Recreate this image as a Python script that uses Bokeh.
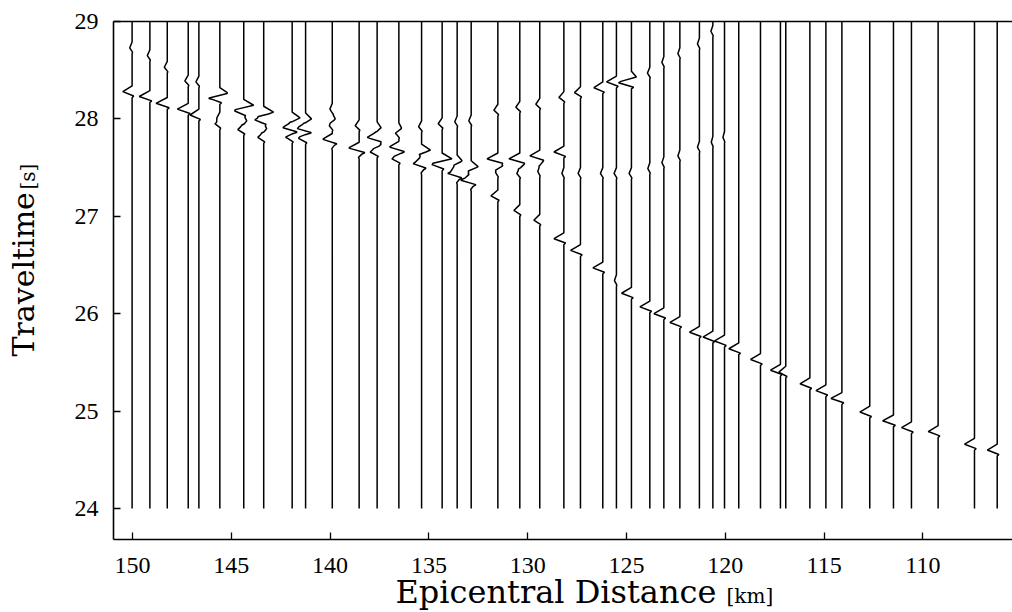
import numpy as np
from bokeh.plotting import figure
from bokeh.models import Range1d, FixedTicker, Label, LinearAxis
from bokeh.embed import file_html
from bokeh.resources import INLINE

# epicentral distance of each trace [km]
distances = [150.02, 149.12, 148.24, 147.18, 146.64, 145.58, 144.37, 143.36, 141.92, 141.24,
             139.89, 138.53, 137.62, 136.52, 135.37, 134.33, 133.57, 132.86, 131.51, 130.40,
             129.39, 128.17, 127.33, 126.20, 125.51, 124.75, 123.82, 123.11, 122.30, 121.31,
             120.63, 120.04, 119.32, 118.22, 117.21, 116.94, 115.72, 114.91, 114.10, 112.69,
             111.49, 110.58, 109.23, 107.39, 106.24]

# arrivals (lobe times [s]) on each trace
arrival_times = [
    [28.73, 28.28], [28.65, 28.23], [28.53, 28.16], [28.39, 28.10], [28.38, 28.04],
    [28.26, 28.21, 28.01, 27.95],
    [28.14, 28.08, 27.98, 27.89],
    [28.07, 27.99, 27.90, 27.81],
    [28.01, 27.91, 27.86, 27.81],
    [28.00, 27.90, 27.86, 27.80],
    [28.10, 28.00, 27.93, 27.79, 27.74],
    [27.93, 27.70, 27.65],
    [27.91, 27.81, 27.74, 27.66],
    [27.90, 27.85, 27.71, 27.66, 27.59],
    [27.92, 27.68, 27.60, 27.54, 27.49],
    [27.95, 27.59, 27.53],
    [27.97, 27.57, 27.50, 27.44, 27.39],
    [27.98, 27.51, 27.44, 27.37, 27.32],
    [28.09, 27.59, 27.52, 27.45, 27.21],
    [28.12, 27.59, 27.53, 27.44, 27.06],
    [28.15, 27.62, 27.56, 27.46, 26.96],
    [28.22, 27.66, 27.44, 26.77],
    [28.27, 27.44, 26.65],
    [28.32, 27.44, 26.47],
    [28.38, 27.44, 26.34],
    [28.43, 28.37, 27.44, 26.21],
    [28.47, 27.49, 26.07],
    [28.58, 27.55, 26.00],
    [28.67, 27.62, 25.91],
    [28.77, 27.71, 25.81],
    [28.90, 27.76, 25.76],
    [27.81, 25.72],
    [25.64], [25.53], [25.42], [25.40], [25.28], [25.21], [25.13], [24.99],
    [24.90], [24.83], [24.79], [24.66], [24.60],
]

# lobe amplitudes [km], positive = deflection towards larger distance
arrival_amps = [
    [0.12, 0.47], [0.13, 0.54], [0.15, 0.57], [0.17, 0.55], [0.15, 0.45],
    [-0.45, 0.50, 0.15, 0.25],
    [-0.50, 0.45, -0.15, 0.30],
    [-0.50, 0.45, -0.15, 0.30],
    [-0.40, 0.50, -0.20, 0.30],
    [-0.30, 0.50, -0.25, 0.35],
    [0.12, -0.15, 0.15, 0.50, -0.15],
    [0.20, 0.55, -0.20],
    [-0.20, 0.50, -0.20, 0.35],
    [-0.15, 0.15, 0.50, -0.20, 0.35],
    [0.15, -0.45, 0.10, 0.45, -0.15],
    [0.20, -0.50, 0.50],
    [0.12, -0.25, 0.20, 0.50, -0.15],
    [0.12, -0.35, 0.15, 0.55, -0.15],
    [0.20, 0.55, -0.25, 0.12, 0.35],
    [0.20, 0.55, -0.20, 0.15, 0.30],
    [0.20, 0.50, -0.15, 0.10, 0.30],
    [0.25, 0.50, 0.10, 0.50],
    [0.30, 0.12, 0.50],
    [0.45, 0.12, 0.50],
    [0.50, 0.12, 0.10],
    [-0.25, 0.65, 0.12, 0.50],
    [0.12, 0.10, 0.50],
    [0.10, 0.10, 0.50],
    [0.10, 0.10, 0.50],
    [0.10, 0.10, 0.50],
    [0.10, 0.08, 0.50],
    [0.08, 0.50],
    [0.50], [0.50], [0.50], [0.35], [0.50], [0.50], [0.55], [0.50],
    [0.55], [0.50], [0.50], [0.50], [0.50],
]

# wavelet shape (time offset [s], relative deflection)
wavelet_dt = [-0.062, -0.045, 0.0, 0.06]
wavelet_shape = [0.0, -0.17, 1.0, 0.0]

trace_start, trace_end = 24.0, 29.0
x_ticks = [110, 115, 120, 125, 130, 135, 140, 145, 150]
y_ticks = [24, 25, 26, 27, 28, 29]
x_frame = (105.466, 150.96)     # plotted distance window
y_frame = (23.682, 29.0)        # plotted time window

xs, ys = [], []
dt = np.array(wavelet_dt)
sh = np.array(wavelet_shape)
for d, tl, al in zip(distances, arrival_times, arrival_amps):
    knots = {trace_start, trace_end}
    for ta in tl:
        for k in dt:
            tk = ta + k
            if trace_start < tk < trace_end:
                knots.add(round(tk, 6))
    t = np.array(sorted(knots))
    w = np.zeros_like(t)
    for ta, a in zip(tl, al):
        w += a * np.interp(t - ta, dt, sh, left=0.0, right=0.0)
    xs.append(list(d + w))
    ys.append(list(t))

p = figure(width=1012, height=612,
           x_range=Range1d(156.680, 105.466), y_range=Range1d(22.932, 29.2156),
           x_axis_location=None, y_axis_location=None,
           output_backend="svg", toolbar_location=None,
           min_border_left=0, min_border_right=0, min_border_top=0, min_border_bottom=0)
p.background_fill_color = "white"
p.border_fill_color = "white"
p.outline_line_color = None
p.xgrid.visible = False
p.ygrid.visible = False

p.multi_line(xs, ys, line_color="black", line_width=1.5)

tick_font = "Liberation Serif"
bottom_axis = LinearAxis(fixed_location=y_frame[0], bounds=x_frame,
                         ticker=FixedTicker(ticks=x_ticks), major_label_standoff=19)
left_axis = LinearAxis(fixed_location=x_frame[1], bounds=y_frame,
                       ticker=FixedTicker(ticks=y_ticks), major_label_standoff=15)
top_axis = LinearAxis(fixed_location=y_frame[1], bounds=x_frame,
                      ticker=FixedTicker(ticks=[]), major_label_text_font_size="0px")
for ax in (bottom_axis, left_axis, top_axis):
    ax.axis_line_width = 1.6
    ax.axis_line_color = "black"
    ax.major_tick_in = 7
    ax.major_tick_out = 0
    ax.major_tick_line_width = 1.3
    ax.major_tick_line_color = "black"
    ax.minor_tick_line_color = None
    ax.major_label_text_font = tick_font
    ax.major_label_text_color = "black"
for ax in (bottom_axis, left_axis):
    ax.major_label_text_font_size = "24px"
top_axis.major_tick_line_color = None
p.add_layout(bottom_axis, "below")
p.add_layout(left_axis, "left")
p.add_layout(top_axis, "above")

title_font = "DejaVu Serif"
p.add_layout(Label(x=120.45, y=23.1376, text="Epicentral Distance", text_align="right",
                   text_baseline="middle", text_font=title_font, text_font_size="32px",
                   text_color="black"))
p.add_layout(Label(x=119.94, y=23.0965, text="[km]", text_align="left",
                   text_baseline="middle", text_font=title_font, text_font_size="20px",
                   text_color="black"))
p.add_layout(Label(x=155.516, y=25.56, text="Traveltime", text_align="left", angle=np.pi / 2,
                   text_baseline="middle", text_font=title_font, text_font_size="30px",
                   text_color="black"))
p.add_layout(Label(x=155.31, y=27.275, text="[s]", text_align="left", angle=np.pi / 2,
                   text_baseline="middle", text_font=title_font, text_font_size="20px",
                   text_color="black"))

open("out.html", "w").write(file_html(p, INLINE))
